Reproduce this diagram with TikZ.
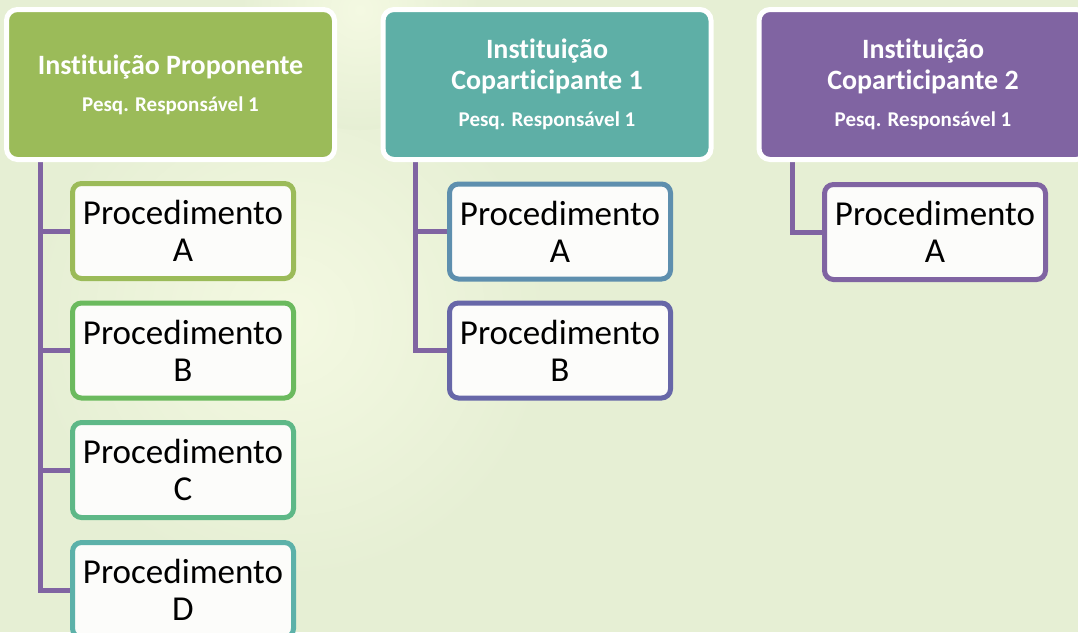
\documentclass[tikz,border=0pt]{standalone}
\usepackage{fontspec}
\setmainfont[RawFeature={-liga;-clig;-calt;-dlig}]{Carlito}
\definecolor{bg}{HTML}{E6EFD4}
\definecolor{glow}{HTML}{F4F9E2}
\definecolor{hA}{HTML}{9BBB59}
\definecolor{hB}{HTML}{5EAFA6}
\definecolor{hC}{HTML}{8064A2}
\definecolor{pA}{HTML}{9BBB59}
\definecolor{pB}{HTML}{6BBA5E}
\definecolor{pC}{HTML}{5EB887}
\definecolor{pD}{HTML}{5CB1A9}
\definecolor{qA}{HTML}{5E8FAE}
\definecolor{qB}{HTML}{6767A8}
\definecolor{rA}{HTML}{8064A2}
\definecolor{conncol}{HTML}{8064A2}
\definecolor{procfill}{HTML}{FCFCFA}
\pgfdeclarelayer{backdrop}
\pgfdeclarelayer{wires}
\pgfsetlayers{backdrop,wires,main}
\begin{document}
\begin{tikzpicture}[x=1pt,y=-1pt,
  head/.style={fill=#1, draw=white, line width=5pt, rounded corners=11pt,
    minimum width=328pt, minimum height=150pt, text=white, align=center,
    font=\bfseries\fontsize{28}{31}\selectfont, inner sep=0pt},
  proc/.style={draw=#1, fill=procfill, line width=5pt, rounded corners=9pt,
    minimum width=221pt, minimum height=95pt, align=center, inner sep=0pt,
    font=\fontsize{35}{37}\selectfont},
  conn/.style={draw=conncol, line width=5pt}]
\useasboundingbox (0,0) rectangle (1078,632);
\clip (0,0) rectangle (1078,632);
% background
\begin{pgfonlayer}{backdrop}
\fill[bg] (0,0) rectangle (1078,632);
\shade[inner color=glow, outer color=bg] (290,320) circle (260);
\shade[inner color=glow, outer color=bg] (360,10) circle (120);
\end{pgfonlayer}
% headers
\node[head=hA] (h1) at (170.5,84.5) {Instituição Proponente\\[6pt]{\fontsize{21}{24}\selectfont Pesq. Responsável 1}};
\node[head=hB] (h2) at (547,84.5) {Instituição\\Coparticipante 1\\[6pt]{\fontsize{21}{24}\selectfont Pesq. Responsável 1}};
\node[head=hC] (h3) at (923,84.5) {Instituição\\Coparticipante 2\\[6pt]{\fontsize{21}{24}\selectfont Pesq. Responsável 1}};
% procedures
\node[proc=pA] (a1) at (183,231) {Procedimento\\A};
\node[proc=pB] (a2) at (183,350.5) {Procedimento\\B};
\node[proc=pC] (a3) at (183,470) {Procedimento\\C};
\node[proc=pD] (a4) at (183,590) {Procedimento\\D};
\node[proc=qA] (b1) at (560,231.5) {Procedimento\\A};
\node[proc=qB] (b2) at (560,350.5) {Procedimento\\B};
\node[proc=rA] (c1) at (935,232) {Procedimento\\A};
% trunk coordinates
\coordinate (t1) at (40.5,162);
\coordinate (t2) at (415,162);
\coordinate (t3) at (792.5,162);
% connectors
\begin{pgfonlayer}{wires}
\draw[conn] (h1.south -| t1) |- (a4.west);
\draw[conn] (t1) |- (a1.west);
\draw[conn] (t1) |- (a2.west);
\draw[conn] (t1) |- (a3.west);
\draw[conn] (h2.south -| t2) |- (b2.west);
\draw[conn] (t2) |- (b1.west);
\draw[conn] (h3.south -| t3) |- (c1.west);
\end{pgfonlayer}
\end{tikzpicture}
\end{document}
